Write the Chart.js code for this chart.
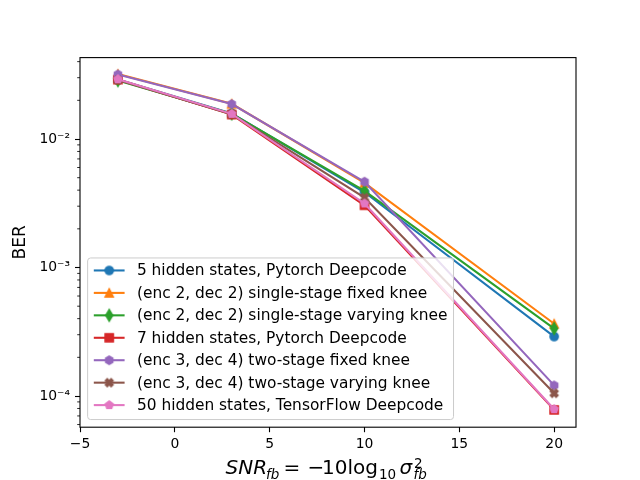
<!DOCTYPE html>
<html>
<head>
<meta charset="utf-8">
<script src="https://cdn.jsdelivr.net/npm/chart.js@4.4.0/dist/chart.umd.min.js"></script>
<style>
html, body { margin: 0; padding: 0; background: #fff; }
#wrap { width: 640px; height: 480px; }
</style>
</head>
<body>
<div id="wrap"><canvas id="berChart" width="640" height="480"></canvas></div>
<script>
// values
const snr = [-3, 3, 10, 20];

const seriesLabels = [
  '5 hidden states, Pytorch Deepcode',
  '(enc 2, dec 2) single-stage fixed knee',
  '(enc 2, dec 2) single-stage varying knee',
  '7 hidden states, Pytorch Deepcode',
  '(enc 3, dec 4) two-stage fixed knee',
  '(enc 3, dec 4) two-stage varying knee',
  '50 hidden states, TensorFlow Deepcode'
];
const seriesColors = ['#1f77b4', '#ff7f0e', '#2ca02c', '#d62728', '#9467bd', '#8c564b', '#e377c2'];
const seriesMarkers = ['circle', 'triangle', 'thindiamond', 'square', 'hexagon', 'xfilled', 'pentagon'];

const berPytorch5 = [0.0290, 0.0158, 0.00385, 0.000290];
const berSingleFixed = [0.0320, 0.0188, 0.00455, 0.000365];
const berSingleVarying = [0.0285, 0.0157, 0.00395, 0.000335];
const berPytorch7 = [0.0290, 0.0155, 0.00305, 0.0000780];
const berTwoFixed = [0.0318, 0.0187, 0.00465, 0.000121];
const berTwoVarying = [0.0288, 0.0156, 0.00350, 0.000105];
const berTensorFlow50 = [0.0292, 0.0157, 0.00315, 0.0000790];
const allSeries = [berPytorch5, berSingleFixed, berSingleVarying, berPytorch7, berTwoFixed, berTwoVarying, berTensorFlow50];

const xTicks = [-5, 0, 5, 10, 15, 20];
const yMajorTicks = [1e-4, 1e-3, 1e-2];
const yTickLabels = ['10\u207b\u2074', '10\u207b\u00b3', '10\u207b\u00b2'];

const FONT = 'DejaVu Sans';
const LEGEND_FS = 15.4;

// matplotlib-like marker sprites
function makeMarker(shape, color) {
  const c = document.createElement('canvas');
  c.width = 16; c.height = 16;
  const g = c.getContext('2d');
  const s = 8.33, h = s / 2;
  g.translate(8, 8);
  g.beginPath();
  const poly = (n) => {
    for (let k = 0; k < n; k++) {
      const a = -Math.PI / 2 + 2 * Math.PI * k / n;
      const px = h * Math.cos(a), py = h * Math.sin(a);
      k === 0 ? g.moveTo(px, py) : g.lineTo(px, py);
    }
    g.closePath();
  };
  if (shape === 'circle') {
    g.arc(0, 0, h, 0, 2 * Math.PI);
  } else if (shape === 'triangle') {
    g.moveTo(0, -h); g.lineTo(h, h); g.lineTo(-h, h); g.closePath();
  } else if (shape === 'thindiamond') {
    const w = 0.424 * s, t = 0.707 * s;
    g.moveTo(0, -t); g.lineTo(w, 0); g.lineTo(0, t); g.lineTo(-w, 0); g.closePath();
  } else if (shape === 'square') {
    g.rect(-h, -h, s, s);
  } else if (shape === 'hexagon') {
    poly(6);
  } else if (shape === 'pentagon') {
    poly(5);
  } else if (shape === 'xfilled') {
    const pts = [[-1,-3],[1,-3],[1,-1],[3,-1],[3,1],[1,1],[1,3],[-1,3],[-1,1],[-3,1],[-3,-1],[-1,-1]];
    const ca = Math.cos(Math.PI / 4), sa = Math.sin(Math.PI / 4);
    pts.forEach((p, k) => {
      const px = p[0] / 6 * s, py = p[1] / 6 * s;
      const rx = px * ca - py * sa, ry = px * sa + py * ca;
      k === 0 ? g.moveTo(rx, ry) : g.lineTo(rx, ry);
    });
    g.closePath();
  }
  g.fillStyle = color;
  g.fill();
  g.lineWidth = 1.39;
  g.strokeStyle = color;
  g.stroke();
  return c;
}

const markerImgs = seriesMarkers.map((m, i) => makeMarker(m, seriesColors[i]));

const datasets = allSeries.map((vals, i) => ({
  label: seriesLabels[i],
  data: snr.map((x, j) => ({ x: x, y: vals[j] })),
  borderColor: seriesColors[i],
  backgroundColor: seriesColors[i],
  borderWidth: 2.08,
  pointStyle: markerImgs[i],
  order: allSeries.length - i,   // later series on top, like matplotlib
  tension: 0
}));

// x label pieces, "at" = offset from start of the label (mathtext-like spacing)
const xLabelRuns = [
  { t: 'SNR', italic: true, size: 20, at: 0 },
  { t: 'fb', italic: true, size: 13.5, dy: 5, at: 40.5 },
  { t: '=', size: 20, at: 58 },
  { t: '\u2212', size: 20, at: 82 },
  { t: '10log', size: 20, at: 96.5 },
  { t: '10', size: 13.5, dy: 5, at: 153.5 },
  { t: '\u03c3', italic: true, size: 20, at: 174 },
  { t: '2', size: 13.5, dy: -6, at: 188.5 },
  { t: 'fb', italic: true, size: 13.5, dy: 5, at: 188 }
];
const X_LABEL_WIDTH = 204;

const mplDecor = {
  id: 'mplDecor',
  afterDatasetsDraw(chart) {
    const ctx = chart.ctx, area = chart.chartArea;
    const fs = LEGEND_FS;
    ctx.save();
    ctx.font = fs + 'px "' + FONT + '"';
    const textW = Math.max(...seriesLabels.map(l => ctx.measureText(l).width));
    const pad = 0.4 * fs, handleLen = 2 * fs, textPad = 0.8 * fs;
    const rowH = 22.44;
    const boxH = 161.6;
    const boxW = pad + handleLen + textPad + textW + pad;
    const bx = area.left + 7.64;
    const by = area.bottom - 7.64 - boxH;
    ctx.beginPath();
    ctx.roundRect(bx, by, boxW, boxH, 3);
    ctx.fillStyle = 'rgba(255,255,255,0.8)';
    ctx.fill();
    ctx.lineWidth = 1;
    ctx.strokeStyle = '#cccccc';
    ctx.stroke();
    seriesLabels.forEach((lab, i) => {
      const cy = by + 12.5 + i * rowH;
      const hx = bx + pad;
      ctx.beginPath();
      ctx.moveTo(hx, cy);
      ctx.lineTo(hx + handleLen, cy);
      ctx.lineWidth = 2.08;
      ctx.strokeStyle = seriesColors[i];
      ctx.stroke();
      const img = markerImgs[i];
      ctx.drawImage(img, hx + handleLen / 2 - img.width / 2, cy - img.height / 2);
      ctx.fillStyle = '#000';
      ctx.textBaseline = 'middle';
      ctx.textAlign = 'left';
      ctx.fillText(lab, hx + handleLen + textPad, cy + 1);
    });
    ctx.restore();
  },
  afterDraw(chart) {
    const ctx = chart.ctx, area = chart.chartArea;
    const y = chart.scales.y;
    ctx.save();
    // minor ticks on the log axis
    ctx.strokeStyle = '#000';
    ctx.lineWidth = 0.83;
    y.ticks.forEach(t => {
      if (t.major) return;
      const py = y.getPixelForValue(t.value);
      ctx.beginPath();
      ctx.moveTo(area.left - 2.8, py);
      ctx.lineTo(area.left, py);
      ctx.stroke();
    });
    // axes frame
    ctx.lineWidth = 1.1;
    ctx.strokeRect(area.left, area.top, area.right - area.left, area.bottom - area.top);
    // y label
    ctx.fillStyle = '#000';
    ctx.font = '17px "' + FONT + '"';
    ctx.textAlign = 'center';
    ctx.textBaseline = 'middle';
    ctx.translate(21, (area.top + area.bottom) / 2);
    ctx.rotate(-Math.PI / 2);
    ctx.fillText('BER', 0, 0);
    ctx.setTransform(1, 0, 0, 1, 0, 0);
    // x label with sub/superscripts
    ctx.textAlign = 'left';
    ctx.textBaseline = 'alphabetic';
    const x0 = (area.left + area.right) / 2 - X_LABEL_WIDTH / 2 - 0.5;
    xLabelRuns.forEach(r => {
      ctx.font = (r.italic ? 'italic ' : '') + r.size + 'px "' + FONT + '"';
      ctx.fillText(r.t, x0 + r.at, 473.5 + (r.dy || 0));
    });
    ctx.restore();
  }
};

new Chart(document.getElementById('berChart'), {
  type: 'line',
  data: { datasets: datasets },
  options: {
    responsive: false,
    animation: false,
    events: [],
    layout: { padding: { top: 57.6, right: 64, left: 0, bottom: 0 } },
    plugins: { legend: { display: false }, tooltip: { enabled: false } },
    scales: {
      x: {
        type: 'linear',
        min: -5,
        max: 21.15,
        afterBuildTicks: (s) => { s.ticks = xTicks.map(v => ({ value: v })); },
        afterFit: (s) => { s.height = 52.8; },
        border: { display: false },
        grid: { drawOnChartArea: false, tickLength: 5, tickColor: '#000', tickWidth: 1.1 },
        ticks: {
          autoSkip: false,
          maxRotation: 0,
          padding: 4,
          color: '#000',
          font: { family: FONT, size: 13.9 },
          callback: (v) => (v < 0 ? '\u2212' + Math.abs(v) : '' + v)
        }
      },
      y: {
        type: 'logarithmic',
        min: 5.72e-5,
        max: 0.0430,
        afterBuildTicks: (s) => {
          const t = [];
          for (let e = -5; e <= -1; e++) {
            for (let m = 1; m <= 9; m++) {
              const v = m * Math.pow(10, e);
              if (v >= s.min && v <= s.max) t.push({ value: v, major: m === 1 });
            }
          }
          s.ticks = t;
        },
        afterFit: (s) => { s.width = 80; },
        border: { display: false },
        grid: {
          drawOnChartArea: false,
          tickLength: 5,
          tickWidth: 1.1,
          tickColor: (c) => (c.tick && c.tick.major ? '#000' : 'rgba(0,0,0,0)')
        },
        ticks: {
          autoSkip: false,
          padding: 5,
          color: '#000',
          font: { family: FONT, size: 13.9 },
          callback: (v) => {
            const k = yMajorTicks.findIndex(m => Math.abs(m - v) / m < 1e-6);
            return k >= 0 ? yTickLabels[k] : '';
          }
        }
      }
    }
  },
  plugins: [mplDecor]
});
</script>
</body>
</html>
